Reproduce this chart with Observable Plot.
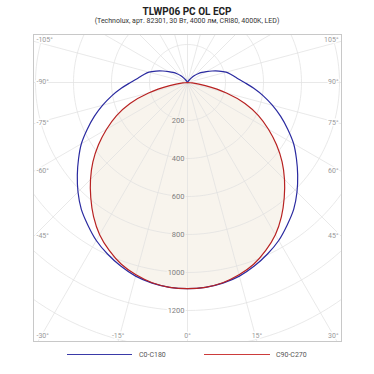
<!DOCTYPE html>
<html>
<head>
<meta charset="utf-8">
<script src="https://cdn.jsdelivr.net/npm/d3@7"></script>
<script src="https://cdn.jsdelivr.net/npm/@observablehq/plot@0.6"></script>
<style>
  html, body { margin: 0; padding: 0; background: #fff; }
  body { width: 374px; height: 374px; position: relative; overflow: hidden; font-family: Roboto, "Noto Sans", sans-serif; }
  #title { position: absolute; top: 5px; left: 0; width: 374px; text-align: center; font-weight: bold; font-size: 10px; color: #222; line-height: 14px; }
  #subtitle { position: absolute; top: 16px; left: 0; width: 374px; text-align: center; font-size: 7px; color: #333; line-height: 10px; }
  #chart { position: absolute; top: 28px; left: 0; }
  .leg { position: absolute; top: 350px; font-size: 7px; color: #555; line-height: 10px; }
  .legline { position: absolute; top: 354px; height: 0; border-top: 1.4px solid; }
</style>
</head>
<body>
<div id="title">TLWP06 PC OL ECP</div>
<div id="subtitle">(Technolux, арт. 82301, 30 Вт, 4000 лм, CRI80, 4000K, LED)</div>
<div id="chart"></div>
<div class="legline" style="left:67px;width:65px;border-color:#3a3aa8"></div>
<div class="leg" style="left:139px">C0-C180</div>
<div class="legline" style="left:204px;width:66px;border-color:#cc3b3b"></div>
<div class="leg" style="left:276px">C90-C270</div>
<script>
// Data (cd vs angle in degrees, 0 = nadir), symmetric curves
const seriesNames = ["C0-C180", "C90-C270"];
const blueAngles = [0,5,10,15,20,25,30,35,40,45,50,55,60,65,70,75,80,85,90,95,100,105,110,115,120,125,130,135,140,145,150,155];
const blueValues = [1085,1082,1072,1055,1028,996,960,915,870,815,757,700,645,582,522,462,405,350,300,262,235,210,176,143,115,93,72,52,32,16,6,0];
const redAngles = [0,5,10,15,20,25,30,35,40,45,50,55,60,65,70,75,80,85,90];
const redValues = [1085,1082,1070,1048,1018,975,925,862,792,722,650,572,492,412,322,212,95,25,0];
const gridRadii = [200,400,600,800,1000,1200,1400,1600];
const radiusLabels = [200,400,600,800,1000,1200];
const angleLabels = [-105,-90,-75,-60,-45,-30,-15,0,15,30,45,60,75,90,105];
const radialAngles = d3.range(0, 360, 15);

const blueColor = "#2a2aa0";
const redColor = "#b82222";
const fillColor = "#f8f4ed";
const gridColor = "#e0e0e0";
const labelColor = "#999999";

const rad = a => a * Math.PI / 180;
function curve(angles, values) {
  const pts = [];
  for (let i = angles.length - 1; i >= 0; i--) pts.push({a: -angles[i], v: values[i]});
  for (let i = 1; i < angles.length; i++) pts.push({a: angles[i], v: values[i]});
  return pts.map(p => ({x: p.v * Math.sin(rad(p.a)), y: p.v * Math.cos(rad(p.a))}));
}
const bluePts = curve(blueAngles, blueValues);
const redPts = curve(redAngles, redValues);

// scale: 0.19 px per cd
const W = 374, H = 320;
const mL = 33, mR = 33, mT = 6, mB = 7;
const k = 0.19;
const xDom = [-154 / k, 154 / k];
const yDom = [-48 / k, 259 / k];

const circles = gridRadii.flatMap(r => d3.range(0, 361, 2).map(a => ({r, x: r * Math.sin(rad(a)), y: r * Math.cos(rad(a))})));
const radials = radialAngles.map(a => ({x2: 3000 * Math.sin(rad(a)), y2: 3000 * Math.cos(rad(a))}));

// angle label positions at frame intersections
const pad = 3 / k;
const labels = angleLabels.map(a => {
  const s = Math.sin(rad(a)), c = Math.cos(rad(a));
  let tx = Infinity, ty = Infinity;
  if (s < -1e-9) tx = xDom[0] / s; else if (s > 1e-9) tx = xDom[1] / s;
  if (c > 1e-9) ty = yDom[1] / c; else if (c < -1e-9) ty = yDom[0] / c;
  const t = Math.min(tx, ty);
  let x = t * s, y = t * c, anchor = "middle";
  if (tx <= ty) {
    anchor = s < 0 ? "start" : "end";
    x = s < 0 ? xDom[0] + pad : xDom[1] - pad;
    y = Math.max(y - 1 / k, yDom[0] + 4.5 / k);
  } else {
    y = yDom[1] - 6 / k;
    if (x < xDom[0] + 10 / k) { anchor = "start"; x = xDom[0] + pad; }
    else if (x > xDom[1] - 10 / k) { anchor = "end"; x = xDom[1] - pad; }
  }
  return {a, x, y, anchor, text: `${a}°`};
});

const labelOpts = {x: "x", y: "y", text: "text", fontSize: 7, fill: labelColor, stroke: "#ffffff", strokeWidth: 3};

const plot = Plot.plot({
  width: W, height: H,
  marginLeft: mL, marginRight: mR, marginTop: mT, marginBottom: mB,
  x: {domain: xDom, axis: null},
  y: {domain: yDom, reverse: true, axis: null},
  style: {fontFamily: "Roboto, 'Noto Sans', sans-serif", background: "transparent"},
  marks: [
    Plot.line(redPts, {x: "x", y: "y", fill: fillColor, stroke: "none", curve: "catmull-rom"}),
    Plot.line(circles, {x: "x", y: "y", z: "r", stroke: gridColor, strokeWidth: 0.7, clip: true}),
    Plot.link(radials, {x1: 0, y1: 0, x2: "x2", y2: "y2", stroke: gridColor, strokeWidth: 0.7, clip: true}),
    Plot.line(bluePts, {x: "x", y: "y", stroke: blueColor, strokeWidth: 1.2, curve: "catmull-rom"}),
    Plot.line(redPts, {x: "x", y: "y", stroke: redColor, strokeWidth: 1.2, curve: "catmull-rom"}),
    Plot.text(radiusLabels, {x: 0, y: d => d, text: d => String(d), textAnchor: "end", dx: -3, fontSize: 7.5, fill: "#808080",
      stroke: d => d < 1080 ? fillColor : "#ffffff", strokeWidth: 3}),
    Plot.text(labels.filter(d => d.anchor === "start"), {...labelOpts, textAnchor: "start"}),
    Plot.text(labels.filter(d => d.anchor === "end"), {...labelOpts, textAnchor: "end"}),
    Plot.text(labels.filter(d => d.anchor === "middle"), {...labelOpts, textAnchor: "middle"}),
    Plot.frame({stroke: "#c8c8c8", strokeWidth: 1})
  ]
});
document.getElementById("chart").appendChild(plot);
</script>
</body>
</html>
